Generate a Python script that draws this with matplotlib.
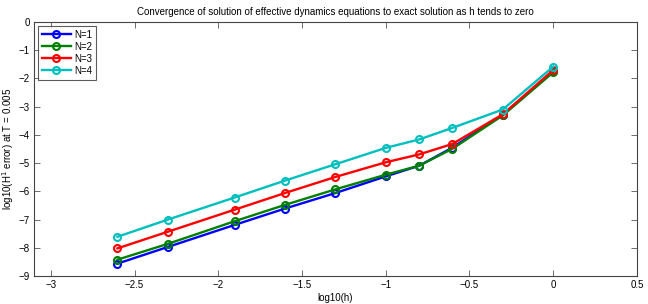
import numpy as np
import matplotlib
matplotlib.use("Agg")
import matplotlib.pyplot as plt

plt.rcParams['font.family'] = ['Liberation Sans', 'DejaVu Sans']

# log10 of step size h
log_h = [-2.602, -2.301, -1.903, -1.602, -1.301, -1.0, -0.80, -0.602, -0.301, 0.0]

# log10(H^1 error) for each N
err_n1 = [-8.56, -7.97, -7.19, -6.61, -6.06, -5.47, -5.09, -4.45, -3.28, -1.75]
err_n2 = [-8.42, -7.86, -7.06, -6.48, -5.93, -5.41, -5.09, -4.49, -3.31, -1.78]
err_n3 = [-8.02, -7.43, -6.65, -6.06, -5.49, -4.97, -4.69, -4.32, -3.27, -1.70]
err_n4 = [-7.61, -7.00, -6.22, -5.62, -5.04, -4.46, -4.16, -3.75, -3.10, -1.58]

series = [("N=1", err_n1, (0, 0, 1)),
          ("N=2", err_n2, (0, 0.5, 0)),
          ("N=3", err_n3, (1, 0, 0)),
          ("N=4", err_n4, (0, 0.75, 0.75))]

xticks = [-3, -2.5, -2, -1.5, -1, -0.5, 0, 0.5]
yticks = list(range(-9, 1))

fig = plt.figure(figsize=(6.48, 3.04), dpi=100)
ax = fig.add_axes([0.0525, 0.092, 0.9305, 0.8356])

for label, vals, col in series:
    ax.plot(log_h, vals, '-o', color=col, lw=1.7, ms=5, mfc='none', mew=1.5, label=label)

ax.set_xlim(-3.1, 0.5)
ax.set_ylim(-9, 0)
ax.set_xticks(xticks)
ax.set_xticklabels(["\u22123", "\u22122.5", "\u22122", "\u22121.5", "\u22121", "\u22120.5", "0", "0.5"])
ax.set_yticks(yticks)
ax.set_yticklabels(["\u2212%d" % -t if t < 0 else "0" for t in yticks])
ax.tick_params(direction='in', length=4, width=0.6, labelsize=7, top=True, right=True,
               color='#555555', pad=3)
for sp in ax.spines.values():
    sp.set_linewidth(0.8)
    sp.set_color('#444444')

ax.set_title("Convergence of solution of effective dynamics equations to exact solution as h tends to zero",
             fontsize=7, pad=5)
ax.set_xlabel("log10(h)", fontsize=7, labelpad=2)
ax.set_ylabel("log10(H$^1$ error) at T = 0.005", fontsize=7, labelpad=2)

leg = ax.legend(loc='upper left', fontsize=7, frameon=True, fancybox=False, borderpad=0.4,
                handlelength=3.0, handletextpad=0.3, labelspacing=0.2, borderaxespad=0.4)
leg.get_frame().set_edgecolor('#333333')
leg.get_frame().set_linewidth(0.8)

fig.savefig("out.png", dpi=100)
